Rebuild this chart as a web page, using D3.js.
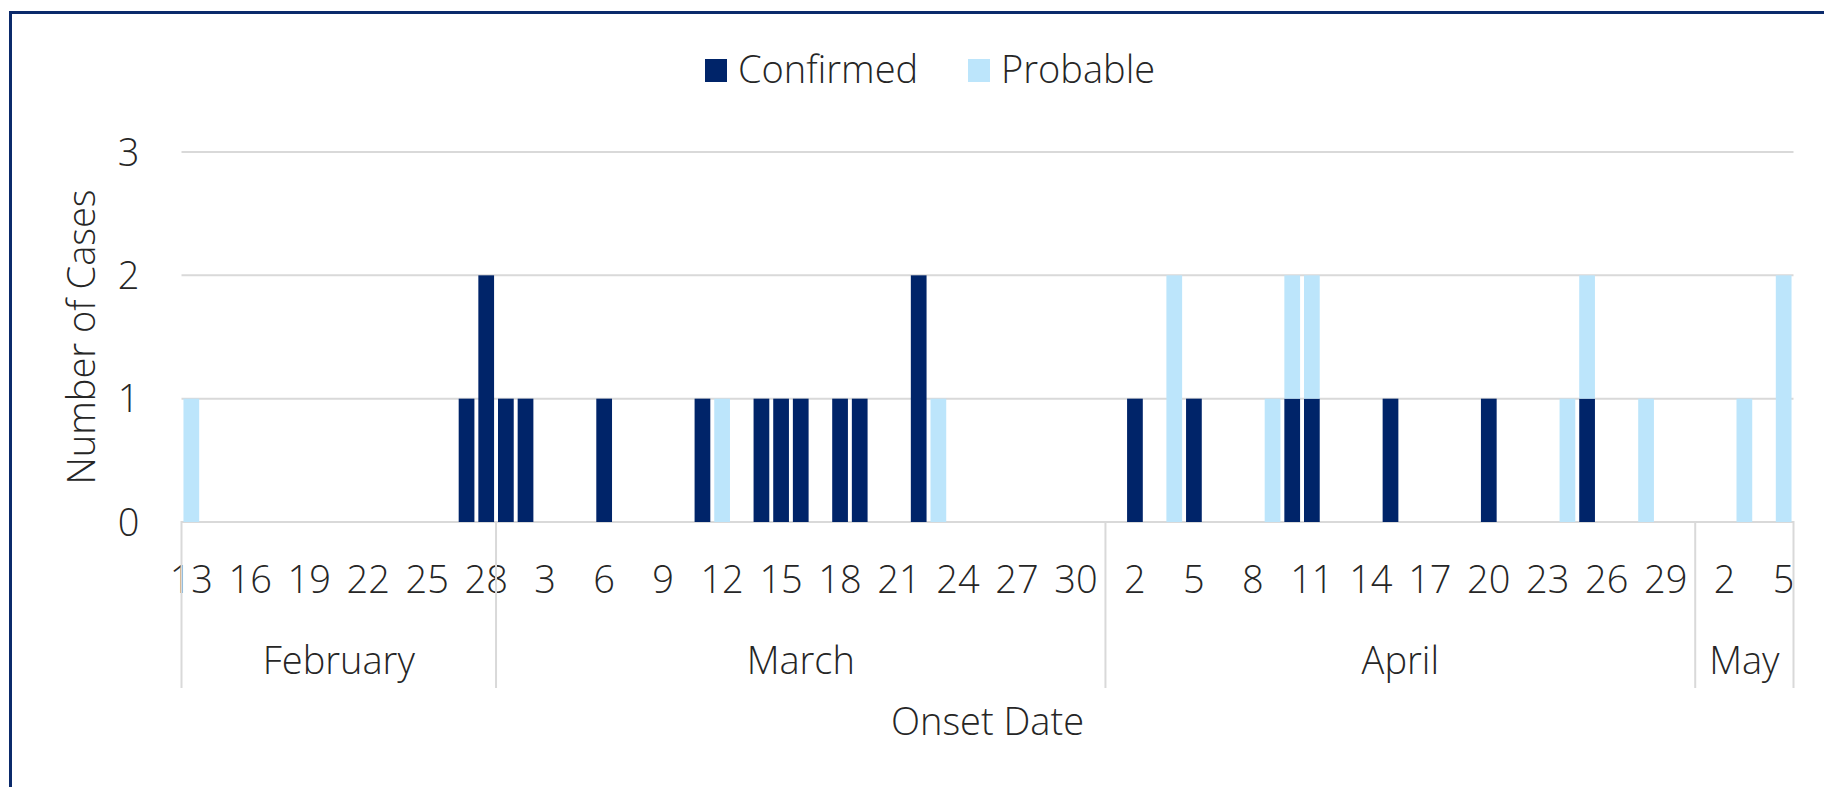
<!DOCTYPE html>
<html>
<head>
<meta charset="utf-8">
<script src="https://cdn.jsdelivr.net/npm/d3@7"></script>
<style>
  html, body { margin: 0; padding: 0; background: #fff; overflow: hidden; }
  svg { display: block; }
  text { font-family: "Open Sans", "Noto Sans", "Lato", sans-serif; font-weight: 300; fill: #262626; }
</style>
</head>
<body>
<svg id="chart" width="1824" height="787"></svg>
<script>
// ---------- DATA ----------
const monthNames = ["February", "March", "April", "May"];
const monthFirstDay = [13, 1, 1, 1];
const monthLength = [16, 31, 30, 5]; // days shown per month (Feb 13–28, Mar, Apr, May 1–5)

const seriesNames = ["Confirmed", "Probable"];
const seriesColors = ["#002469", "#bce5fb"];

// one value per day, Feb 13 → May 5
const confirmed = [
  // Feb 13–28
  0,0,0,0,0,0,0,0,0,0,0,0,0,0,1,2,
  // Mar 1–31
  1,1,0,0,0,1,0,0,0,0, 1,0,0,1,1,1,0,1,1,0, 0,2,0,0,0,0,0,0,0,0,0,
  // Apr 1–30
  0,1,0,0,1,0,0,0,0,1, 1,0,0,0,1,0,0,0,0,1, 0,0,0,0,1,0,0,0,0,0,
  // May 1–5
  0,0,0,0,0
];
const probable = [
  // Feb 13–28
  1,0,0,0,0,0,0,0,0,0,0,0,0,0,0,0,
  // Mar 1–31
  0,0,0,0,0,0,0,0,0,0, 0,1,0,0,0,0,0,0,0,0, 0,0,1,0,0,0,0,0,0,0,0,
  // Apr 1–30
  0,0,0,2,0,0,0,0,1,1, 1,0,0,0,0,0,0,0,0,0, 0,0,0,1,1,0,0,1,0,0,
  // May 1–5
  0,0,1,0,2
];
const yTicks = [0, 1, 2, 3];
const xLabelEvery = 3;
const xTitle = "Onset Date";
const yTitle = "Number of Cases";

// ---------- BUILD CATEGORIES ----------
const days = [];
monthNames.forEach((m, mi) => {
  for (let k = 0; k < monthLength[mi]; k++) {
    days.push({ idx: days.length, month: mi, day: monthFirstDay[mi] + k });
  }
});
const rows = days.map((d, i) => ({ idx: i, Confirmed: confirmed[i], Probable: probable[i] }));

// ---------- LAYOUT ----------
const svg = d3.select("#chart");
const plotLeft = 181.5, plotRight = 1793.5, plotTop = 152, plotBottom = 522;
const fontSize = 38;

const x = d3.scaleBand()
  .domain(days.map(d => d.idx))
  .range([plotLeft, plotRight])
  .paddingInner(0.2)
  .paddingOuter(0.1);
const y = d3.scaleLinear().domain([0, 3]).range([plotBottom, plotTop]);
const step = x.step();
const edge = i => x(i) - step * 0.1; // left boundary of a category slot

// outer border (only top and left edges are inside the picture)
svg.append("path")
  .attr("d", "M10.5,787 V12.5 H1824")
  .attr("fill", "none").attr("stroke", "#0b2a6b").attr("stroke-width", 3);

// gridlines
svg.append("g")
  .selectAll("line")
  .data(yTicks)
  .join("line")
  .attr("x1", plotLeft).attr("x2", plotRight)
  .attr("y1", d => y(d)).attr("y2", d => y(d))
  .attr("stroke", "#d9d9d9").attr("stroke-width", 2);

// y axis labels
const yAxis = svg.append("g")
  .attr("transform", `translate(${plotLeft},0)`)
  .call(d3.axisLeft(y).tickValues(yTicks).tickSize(0).tickPadding(42).tickFormat(d3.format("d")));
yAxis.select(".domain").remove();
yAxis.selectAll("text")
  .style("font-size", fontSize + "px")
  .style("font-family", null)
  .attr("fill", null)
  .attr("dy", "0.35em");

// stacked bars
const stack = d3.stack().keys(seriesNames)(rows);
svg.append("g")
  .selectAll("g")
  .data(stack)
  .join("g")
  .attr("fill", (d, i) => seriesColors[i])
  .selectAll("rect")
  .data(d => d.filter(v => v[1] - v[0] > 0))
  .join("rect")
  .attr("x", d => x(d.data.idx))
  .attr("width", x.bandwidth())
  .attr("y", d => y(d[1]))
  .attr("height", d => y(d[0]) - y(d[1]));

// day tick labels
const xAxis = svg.append("g")
  .attr("transform", `translate(0,${plotBottom})`)
  .call(d3.axisBottom(x)
    .tickValues(days.filter(d => d.idx % xLabelEvery === 0).map(d => d.idx))
    .tickSize(0)
    .tickPadding(0)
    .tickFormat(i => days[i].day));
xAxis.select(".domain").remove();
xAxis.selectAll("text")
  .style("font-size", fontSize + "px")
  .style("font-family", null)
  .attr("fill", null)
  .attr("y", 71)
  .attr("dy", 0);

// month dividers and labels
const monthStart = [];
let acc = 0;
monthLength.forEach(n => { monthStart.push(acc); acc += n; });
const dividerX = monthStart.map(s => edge(s)).concat([plotRight]);
svg.append("g")
  .selectAll("line")
  .data(dividerX)
  .join("line")
  .attr("x1", d => d).attr("x2", d => d)
  .attr("y1", plotBottom - 1).attr("y2", 688)
  .attr("stroke", "#d9d9d9").attr("stroke-width", 2);

svg.append("g")
  .selectAll("text")
  .data(monthNames)
  .join("text")
  .attr("x", (d, i) => (dividerX[i] + dividerX[i + 1]) / 2)
  .attr("y", 674)
  .attr("text-anchor", "middle")
  .style("font-size", fontSize + "px")
  .text(d => d);

// axis titles
svg.append("text")
  .attr("x", (plotLeft + plotRight) / 2)
  .attr("y", 735)
  .attr("text-anchor", "middle")
  .style("font-size", fontSize + "px")
  .text(xTitle);

svg.append("text")
  .attr("transform", `translate(95,${(plotTop + plotBottom) / 2}) rotate(-90)`)
  .attr("text-anchor", "middle")
  .style("font-size", fontSize + "px")
  .text(yTitle);

// legend
const legendX = [705, 968];
const legend = svg.append("g")
  .selectAll("g")
  .data(seriesNames)
  .join("g")
  .attr("transform", (d, i) => `translate(${legendX[i]},59)`);
legend.append("rect")
  .attr("width", 22).attr("height", 23)
  .attr("fill", (d, i) => seriesColors[i]);
legend.append("text")
  .attr("x", 33).attr("y", 24)
  .style("font-size", fontSize + "px")
  .text(d => d);
</script>
</body>
</html>
